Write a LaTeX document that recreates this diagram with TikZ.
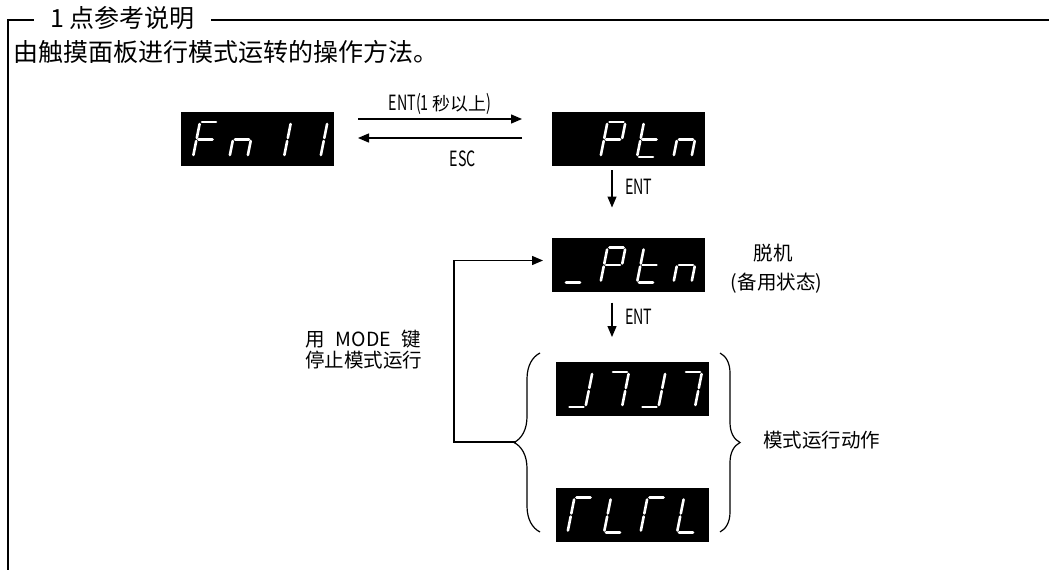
\documentclass[tikz,border=0pt]{standalone}
\usepackage{fontspec}
\setmainfont{Noto Sans CJK SC}
\newfontfamily\nar[FakeStretch=0.68]{Noto Sans CJK SC}
\usetikzlibrary{arrows.meta,decorations.pathreplacing}

\def\sgA{2,35,16,35}
\def\sgB{18,33,18,19}
\def\sgC{18,16,18,2}
\def\sgD{2,0,16,0}
\def\sgE{0,2,0,16}
\def\sgF{0,19,0,33}
\def\sgG{2,17.5,16,17.5}
\def\drawsegi#1,#2,#3,#4\relax{\draw[seg] (#1,-#2) -- (#3,-#4);}
\newcommand\drawseg[1]{\expandafter\expandafter\expandafter\drawsegi\csname sg#1\endcsname\relax}
\newcommand\sdigit[2]{\begin{scope}[shift={(#1,-9)},xslant=0.2]\foreach \s in {#2}{\drawseg{\s}}\end{scope}}
\newcommand\nlab[1]{{\fontsize{21}{21}\nar #1}}
\newcommand\clab[1]{{\fontsize{18}{18}\selectfont #1}}

\begin{document}
\begin{tikzpicture}[x=1pt,y=-1pt,
  disp/.style={fill=black,minimum width=153pt,minimum height=54pt,inner sep=0pt,outer sep=0pt},
  seg/.style={white,line width=2.6pt,line cap=round},
  arr/.style={line width=1.3pt,-{Triangle[length=11pt,width=9pt]}},
  brc/.style={line width=1.2pt,decorate},
  frame/.style={line width=1.6pt},
  lab/.style={inner sep=0pt,font=\fontsize{19.5}{19}\selectfont}]
\useasboundingbox (0,0) rectangle (1049,570);

% frame and headings
\draw[frame] (1049,20) -- (8,20) -- (8,570);
\node[anchor=west,fill=white,inner xsep=16pt,inner ysep=2pt,font=\fontsize{25}{25}\selectfont] (title) at (34,18) {1 点参考说明};
\node[anchor=west,inner sep=0pt,font=\fontsize{25}{25}\selectfont] (intro) at (13,52) {由触摸面板进行模式运转的操作方法。};

% displays
\node[disp] (fn) at (257.5,139) {};
\node[disp] (ptn) at (628.5,139) {};
\node[disp] (ptnb) at (628.5,264.5) {};
\node[disp] (jj) at (632,389) {};
\node[disp] (rl) at (632,514.5) {};

\begin{scope}[shift={(fn.south west)}]
\sdigit{12}{A,E,F,G}\sdigit{48.5}{C,E,G}\sdigit{85}{B,C}\sdigit{121.5}{B,C}
\end{scope}
\begin{scope}[shift={(ptn.south west)}]
\sdigit{48.5}{A,B,E,F,G}\sdigit{85}{D,E,F,G}\sdigit{121.5}{C,E,G}
\end{scope}
\begin{scope}[shift={(ptnb.south west)}]
\sdigit{12}{D}\sdigit{48.5}{A,B,E,F,G}\sdigit{85}{D,E,F,G}\sdigit{121.5}{C,E,G}
\end{scope}
\begin{scope}[shift={(jj.south west)}]
\sdigit{12}{B,C,D}\sdigit{48.5}{A,B,C}\sdigit{85}{B,C,D}\sdigit{121.5}{A,B,C}
\end{scope}
\begin{scope}[shift={(rl.south west)}]
\sdigit{12}{A,E,F}\sdigit{48.5}{D,E,F}\sdigit{85}{A,E,F}\sdigit{121.5}{D,E,F}
\end{scope}

% arrows between Fn11 and Ptn
\draw[arr] ([xshift=24pt,yshift=20pt]fn.east) -- ([xshift=-30pt,yshift=20pt]ptn.west);
\draw[arr] ([xshift=-30pt,yshift=1pt]ptn.west) -- ([xshift=24pt,yshift=1pt]fn.east);
\node[inner sep=0pt] (entl) at (440,104) {\nlab{ENT(1\,}\clab{秒以上}\nlab{)}};
\node[inner sep=0pt] (escl) at (463,159) {\nlab{ESC}};

% down arrows
\draw[arr] ([xshift=-16.5pt,yshift=-4pt]ptn.south) -- ([xshift=-16.5pt,yshift=30pt]ptnb.north);
\node[inner sep=0pt,anchor=west] (ent1) at (625,187) {\nlab{ENT}};
\draw[arr] ([xshift=-16.5pt,yshift=-11pt]ptnb.south) -- ([xshift=-20pt,yshift=25pt]jj.north);
\node[inner sep=0pt,anchor=west] (ent2) at (625,317) {\nlab{ENT}};

% labels
\node[lab] (offl) at (773,253) {脱机};
\node[lab] (stby) at (776.5,283) {(备用状态)};
\node[lab,anchor=west,align=left,font=\fontsize{19.5}{21}\selectfont] (mode) at (305,349.5) {用\hspace{11pt}MODE\hspace{11pt}键\\停止模式运行};
\node[lab,anchor=west] (pat) at (763,440) {模式运行动作};

% braces
\draw[brc,decoration={brace,amplitude=26pt}] (540,532) -- (540,353);
\draw[brc,decoration={brace,amplitude=20pt}] (720,353) -- (720,532);
\coordinate (lbt) at (516,442);

% feedback
\draw[arr] (lbt) -- (454,442) |- ([xshift=-9pt,yshift=4pt]ptnb.west);
\end{tikzpicture}
\end{document}
